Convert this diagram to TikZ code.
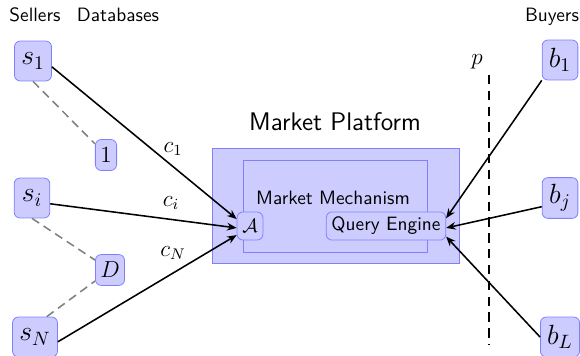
\documentclass[tikz,border=0pt]{standalone}
\usetikzlibrary{arrows.meta}
\begin{document}
\begin{tikzpicture}[x=0.518pt,y=-0.518pt,
  mybox/.style={draw=blue!50,fill=blue!20,rounded corners=3pt},
  agent/.style={mybox,font=\Large,inner sep=3.5pt,minimum height=20.7pt,minimum width=18.5pt},
  dbnode/.style={mybox,font=\large,inner sep=2.5pt,minimum height=16pt,minimum width=11pt},
  innode/.style={mybox,inner sep=2.7pt,minimum height=14.5pt,font=\sffamily},
  area/.style={draw=blue!50,fill=blue!20,inner sep=0pt},
  conn/.style={thick,-{Stealth[length=5pt,width=4pt]}},
  dbline/.style={thick,gray,dash pattern=on 4.4pt off 2.8pt},
  lbl/.style={font=\sffamily,anchor=base},
  elabel/.style={font=\large}]
\useasboundingbox (0,0) rectangle (580,356);
% headings
\node[lbl] (sellers) at (35,22) {Sellers};
\node[lbl] (dbs) at (118,22) {Databases};
\node[lbl] (buyers) at (552,22) {Buyers};
% platform
\node[area,minimum width=128pt,minimum height=59.6pt] (platform) at (335.5,205.5) {};
\node[area,minimum width=95.3pt,minimum height=47.7pt] (mech) at (335,206) {};
\node[lbl,font=\sffamily\fontsize{13.2}{15}\selectfont] (ptitle) at (335,130) {Market Platform};
\node[lbl] (mtitle) at (333,204) {Market Mechanism};
\node[innode] (A) at (250,226) {$\mathcal{A}$};
\node[innode,minimum width=59pt] (QE) at (386,226) {Query Engine};
% sellers
\node[agent] (s1) at (33,61) {$s_1$};
\node[agent] (si) at (32,198) {$s_i$};
\node[agent] (sN) at (35,337) {$s_N$};
% databases
\node[dbnode] (d1) at (106,155) {$1$};
\node[dbnode] (dD) at (110,270) {$D$};
% buyers
\node[agent] (b1) at (560,60) {$b_1$};
\node[agent] (bj) at (560,198) {$b_j$};
\node[agent] (bL) at (560,337) {$b_L$};
% price line
\coordinate (ptop) at (489,75);
\coordinate (pbot) at (489,345);
\draw[thick,dash pattern=on 4.8pt off 3.4pt] (ptop) -- (pbot);
\node[elabel] (p) at (477,62) {$p$};
% database links
\draw[dbline] (s1.south) -- (d1);
\draw[dbline] (si.south) -- (dD);
\draw[dbline] (sN.60) -- (dD);
% seller connectors
\draw[conn] ([yshift=-3pt]s1.east) -- ([yshift=3.6pt]A.west);
\draw[conn] ([yshift=-3pt]si.east) -- ([yshift=-1pt]A.west);
\draw[conn] ([yshift=-2.5pt]sN.east) -- ([yshift=-4.7pt]A.west);
\node[elabel] (c1) at (173,149) {$c_1$};
\node[elabel] (ci) at (171,203) {$c_i$};
\node[elabel] (cN) at (173,253) {$c_N$};
% buyer connectors
\draw[conn] (b1.south west) -- ([yshift=4pt]QE.east);
\draw[conn] ([yshift=-4.5pt]bj.west) -- ([yshift=-1pt]QE.east);
\draw[conn] (bL.west) -- ([yshift=-5.5pt]QE.east);
\end{tikzpicture}
\end{document}
